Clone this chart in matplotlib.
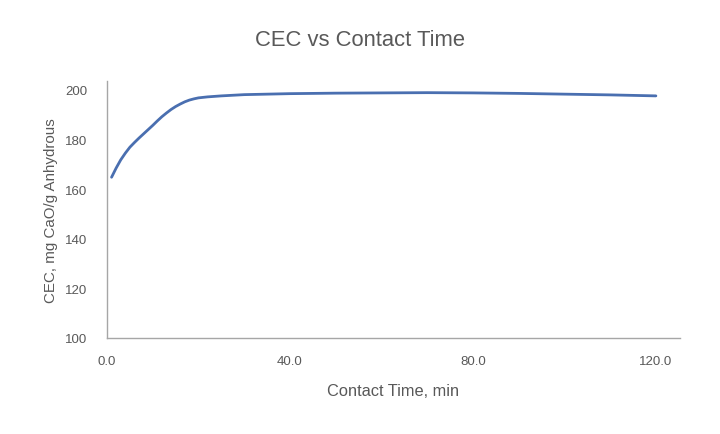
import matplotlib
matplotlib.use('Agg')

import matplotlib.pyplot as plt

# values
contact_time = [1, 2, 3, 4, 5, 6, 7, 8, 9, 10, 11, 12, 13, 14, 15, 16, 17, 18, 19, 20,
                22, 25, 30, 35, 40, 50, 60, 70, 80, 90, 100, 110, 120]
cec = [164.8, 168.5, 171.8, 174.5, 176.9, 178.8, 180.6, 182.3, 184.0, 185.7, 187.5,
       189.2, 190.7, 192.1, 193.3, 194.3, 195.2, 195.9, 196.4, 196.8,
       197.2, 197.6, 198.1, 198.3, 198.5, 198.7, 198.8, 198.9, 198.8, 198.6, 198.3, 198.0, 197.6]

x_ticks = [0, 40, 80, 120]
y_ticks = [100, 120, 140, 160, 180, 200]

plt.rcParams['font.family'] = ['Liberation Sans', 'DejaVu Sans']
grey = '#595959'

fig = plt.figure(figsize=(7.2, 4.35), dpi=100)
ax = fig.add_axes([0.1486, 0.2207, 0.7954, 0.5908])

ax.plot(contact_time, cec, color='#4a6fb0', linewidth=2.0, solid_joinstyle='round',
        solid_capstyle='round')

ax.set_xlim(0, 125.2)
ax.set_ylim(100, 203.6)
ax.set_xticks(x_ticks)
ax.set_xticklabels(['%.1f' % v for v in x_ticks])
ax.set_yticks(y_ticks)

for side in ['top', 'right']:
    ax.spines[side].set_visible(False)
for side in ['left', 'bottom']:
    ax.spines[side].set_color('#a6a6a6')
    ax.spines[side].set_linewidth(1.0)

ax.tick_params(axis='both', length=0, labelsize=9.5, labelcolor=grey)
ax.tick_params(axis='x', pad=12)
ax.tick_params(axis='y', pad=14)

ax.set_xlabel('Contact Time, min', fontsize=11.8, color=grey, labelpad=12)
ax.set_ylabel('CEC, mg CaO/g Anhydrous', fontsize=10.9, color=grey, labelpad=5)

fig.text(0.5, 0.908, 'CEC vs Contact Time', ha='center', va='center',
         fontsize=15.8, color=grey)

fig.savefig('out.png', dpi=100)
plt.close('all')
